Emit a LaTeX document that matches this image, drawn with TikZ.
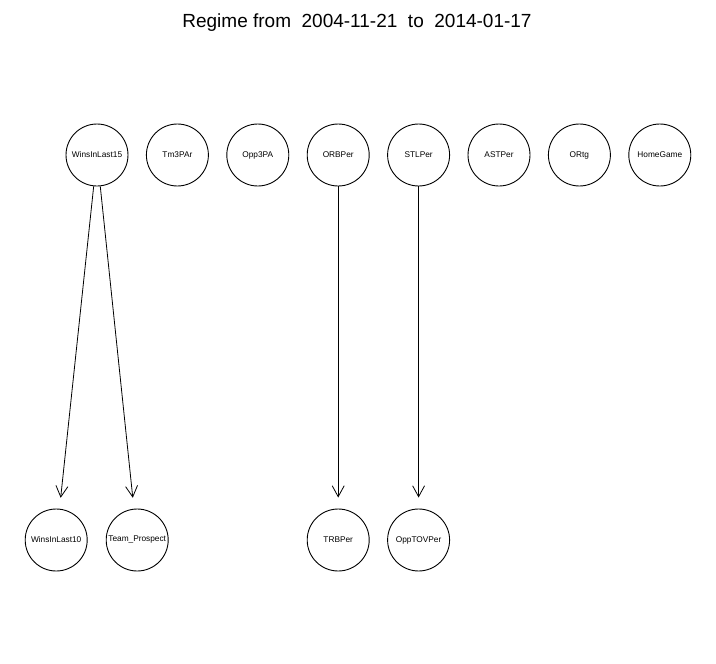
\documentclass[tikz,border=0pt]{standalone}
\usepackage{fontspec}
\setmainfont{Liberation Sans}
\usetikzlibrary{positioning,arrows.meta}
\newcommand\colx{80.4pt}
\newcommand\rowy{385pt}
\newcommand\rad{62pt}

\tikzset{
  var/.style={circle, draw, line width=0.9pt, minimum size=\rad, inner sep=0pt,
    font=\fontsize{8.3}{9}\selectfont},
  dep/.style={-{Straight Barb[length=11pt,width=12pt]}, line width=0.8pt, shorten >=11pt},
}

\begin{document}
\begin{tikzpicture}[x=1pt, y=1pt, node distance=\colx, on grid]
  \useasboundingbox (0,0) rectangle (716,-664);
  \node[font=\fontsize{19}{21}\selectfont, anchor=base] (title) at (357,-27)
    {Regime from\ \ 2004-11-21\ \ to\ \ 2014-01-17};
  % parents
  \node[var] (w15) at (97,-155) {WinsInLast15};
  \node[var, right=of w15] (tm3) {Tm3PAr};
  \node[var, right=of tm3] (opp3) {Opp3PA};
  \node[var, right=of opp3] (orb) {ORBPer};
  \node[var, right=of orb] (stl) {STLPer};
  \node[var, right=of stl] (ast) {ASTPer};
  \node[var, right=of ast] (ortg) {ORtg};
  \node[var, right=of ortg] (home) {HomeGame};
  % children
  \node[var, below=\rowy of orb] (trb) {TRBPer};
  \node[var, right=of trb] (opptov) {OppTOVPer};
  \node[var, left=201pt of trb] (team) {Team\_Prospect};
  \node[var, left=81pt of team] (w10) {WinsInLast10};

  \draw[dep] (w15) -- (w10);
  \draw[dep] (w15) -- (team);
  \draw[dep] (orb) -- (trb);
  \draw[dep] (stl) -- (opptov);
\end{tikzpicture}
\end{document}
